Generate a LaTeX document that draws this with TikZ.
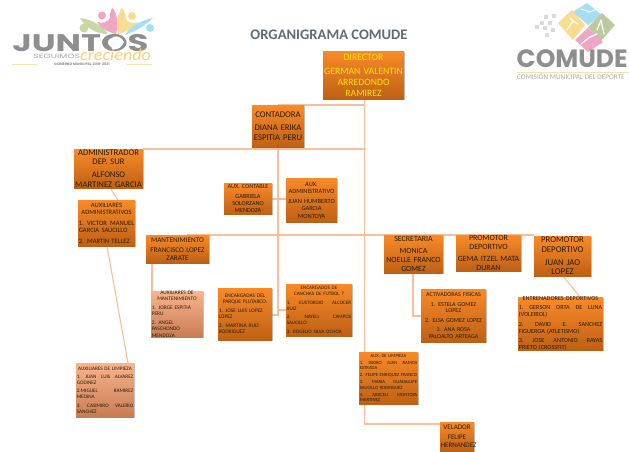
\documentclass[tikz,border=0pt]{standalone}
\usepackage{fontspec}
\setmainfont{Carlito}
\newfontfamily\logofont{Poppins}
\usetikzlibrary{shadows}
\definecolor{boxtop}{HTML}{F98A28}
\definecolor{boxbot}{HTML}{BE6014}
\definecolor{paletop}{HTML}{F9B48C}
\definecolor{palebot}{HTML}{C87C54}
\definecolor{linkc}{HTML}{F8C09A}
\definecolor{inkc}{HTML}{2A1C08}
\definecolor{titlec}{HTML}{5F6B78}
\definecolor{logogrey}{HTML}{8E8E8E}
\definecolor{lgreen}{HTML}{C6D8A4}
\definecolor{lpink}{HTML}{EFA6C6}
\definecolor{lyellow}{HTML}{F9DC92}
\definecolor{lblue}{HTML}{A6DEF2}
\definecolor{lcream}{HTML}{F7E3A8}
\tikzset{
  x=1pt,y=-1pt,
  orgbox/.style={rectangle,inner sep=0pt,outer sep=0pt,top color=boxtop,bottom color=boxbot,
    drop shadow={shadow xshift=0.6pt,shadow yshift=-0.8pt,fill=black!45,opacity=.5}},
  palebox/.style={orgbox,top color=paletop,bottom color=palebot},
  boxtext/.style={inner sep=0pt,outer sep=0pt,text=inkc,align=center},
  link/.style={draw=linkc,line width=1.1pt},
}
% box: name, x0, y0, x1, y1, style, font size, text  (text may overrun the box)
\newcommand{\obox}[8]{%
  \node[#6,anchor=north west,minimum width=#4pt-#2pt,minimum height=#5pt-#3pt] (#1) at (#2,#3) {};
  \node[boxtext,text width=#4pt-#2pt-1.6pt,font=\fontsize{#7}{\fpeval{#7*1.13}}\selectfont] (#1text) at (#1.center) {#8};}
\begin{document}
\begin{tikzpicture}
\useasboundingbox (0,0) rectangle (629,451);
\fill[white] (0,0) rectangle (629,451);

% anchors for the free bends
\coordinate (top) at (364.5,105);
\coordinate (contTop) at (278,105);
\coordinate (adminLine) at (364.5,149);
\coordinate (mantLine) at (187,235);
\coordinate (mainEnd) at (364.5,424);
\coordinate (contEnd) at (278,315);
\coordinate (contBranch) at (278,310);

% connectors first, boxes on top
\draw[link] (364.5,99) -- (mainEnd) -- (440,424);
\draw[link] (contTop) -- (top);
\draw[link] (278,147) -- (contEnd) -- (272,315);
\draw[link] (contBranch) -- (286,310);
\draw[link] (143,149) -- (adminLine);
\draw[link] (mantLine) -- (534,235);
\draw[link] (272,199) -- (286,199);
\draw[link] (110,188) -- (118,200);
\draw[link] (107,246) -- (128,363);
\draw[link] (152,263) -- (152,291);
\draw[link] (413,273) -- (413,316) -- (421,316);
\draw[link] (563,276) -- (580,297);

% boxes
\obox{dir}{323}{51}{404}{99}{orgbox}{9.7}{\color{yellow!90!orange}DIRECTOR\\[3pt]GERMAN VALENTIN\\ARREDONDO\\RAMIREZ}
\obox{cont}{252}{105}{304}{147}{orgbox}{8.7}{CONTADORA\\[3.5pt]DIANA ERIKA\\ESPITIA PERU}
\obox{admin}{74}{149}{143}{188}{orgbox}{8.6}{ADMINISTRADOR\\DEP. SUR\\[3pt]ALFONSO\\MARTINEZ GARCIA}
\obox{auxad}{78}{200}{135}{246}{orgbox}{6.6}{AUXILIARES\\ADMINISTRATIVOS\\[3pt]{\raggedright 1.\hfill VICTOR\hfill MANUEL\\GARCIA SAUCILLO\\[3pt]2. MARTIN TELLEZ\par}}
\obox{auxcon}{224}{183}{272}{214}{orgbox}{6.2}{AUX. CONTABLE\\[3pt]GABRIELA\\SOLORZANO\\MENDOZA}
\obox{auxadm}{286}{178}{337}{222}{orgbox}{6.4}{AUX.\\ADMINISTRATIVO\\[3pt]JUAN HUMBERTO\\GARCIA\\MONTOYA}
\obox{mant}{146}{235}{209}{263}{orgbox}{7.2}{MANTENIMIENTO\\[2pt]FRANCISCO LOPEZ\\ZARATE}
\obox{auxman}{151}{291}{203}{337}{palebox}{5.4}{AUXILIARES DE\\MANTENIMIENTO\\[3pt]{\raggedright 1. JORGE ESPITIA\\PERU\\[3pt]2. ANGEL\\PASCHONDO\\MENDOZA\par}}
\obox{parque}{218}{288}{272}{340}{orgbox}{5.4}{ENCARGADAS DEL\\PARQUE PLUTARCO.\\[3pt]{\raggedright 1. JOSE LUIS LOPEZ\\LOPEZ\\[3pt]2. MARTINA RUIZ\\RODRIGUEZ\par}}
\obox{canchas}{286}{284}{352}{336}{orgbox}{5.1}{ENCARGADOS DE\\CANCHAS DE FUTBOL 7\\[3pt]{\raggedright 1.\hfill EUSTORGIO\hfill ALCOCER\\RUIZ\\[3pt]2.\hfill NAYELI\hfill CAMPOS\\SAUCILLO\\[3pt]3. ROGELIO SILVA OCHOA\par}}
\obox{sec}{384}{235}{443}{273}{orgbox}{7.9}{SECRETARIA\\[2.5pt]MONICA\\NOELLE FRANCO\\GOMEZ}
\obox{prom}{456}{235}{521}{271}{orgbox}{8}{PROMOTOR\\DEPORTIVO\\[3pt]GEMA ITZEL MATA\\DURAN}
\obox{promb}{534}{236}{591}{276}{orgbox}{8.8}{PROMOTOR\\DEPORTIVO\\[2.5pt]JUAN JAO\\LOPEZ}
\obox{activ}{421}{289}{486}{342}{orgbox}{6}{ACTIVADORAS FISICAS\\[2.5pt]1. ESTELA GOMEZ\\LOPEZ\\[2.5pt]2. ELSA GOMEZ LOPEZ\\[2.5pt]3. ANA ROSA\\PALOALTO ARTEAGA}
\obox{entren}{518}{297}{603}{350}{orgbox}{6.2}{ENTRENADORES DEPORTIVOS\\[2.5pt]{\raggedright 1.\hfill GERSON\hfill ORTA\hfill DE\hfill LUNA\\(VOLEIBOL)\\[2.5pt]2.\hfill DAVID\hfill E.\hfill SANCHEZ\\FIGUEROA (ATLETISMO)\\[2.5pt]3.\hfill JOSE\hfill ANTONIO\hfill RAYAS\\PRIETO (CROSSFIT)\par}}
\obox{limpa}{76}{363}{134}{417}{palebox}{5.2}{AUXILIARES DE LIMPIEZA\\[2.5pt]{\raggedright 1.\hfill JUAN\hfill LUIS\hfill ALVAREZ\\GODINEZ\\[2.5pt]2.MIGUEL\hfill RAMIREZ\\MEDINA\\[2.5pt]3.\hfill CASIMIRO\hfill VALERIO\\SANCHEZ\par}}
\obox{limpb}{359}{352}{418}{404}{orgbox}{4.7}{AUX. DE LIMPIEZA\\[1.8pt]{\raggedright 1.\hfill ISIDRO\hfill JUAN\hfill RAMOS\\ESTRADA\\[1.8pt]\mbox{2. FELIPE ENRIQUEZ FRANCO}\\[1.8pt]3.\hfill MARIA\hfill GUADALUPE\\SAUCILLO RODRIGUEZ\\[1.8pt]4.\hfill ARACELI\hfill MONTOYA\\MARTINEZ\par}}
\obox{vel}{440}{422}{474}{451}{orgbox}{7}{VELADOR\\[2pt]FELIPE\\HERNANDEZ}

% title
\node[text=titlec,font=\fontsize{14.6}{16}\selectfont\bfseries] (title) at (329,35) {ORGANIGRAMA COMUDE};

% JUNTOS logo
\fill[lgreen] (80,18) .. controls (92,19) and (104,27) .. (108,34) .. controls (96,34) and (86,28) .. (80,18);
\fill[lgreen] (84,28) circle (4.5pt);
\fill[lpink] (97,22) .. controls (103,24) and (108,22) .. (110,18) .. controls (110,14) and (110,11) .. (112,8) .. controls (118,12) and (118,26) .. (116,34) .. controls (108,32) and (100,28) .. (97,22);
\fill[lpink] (102,15.5) circle (4pt);
\fill[lyellow] (122,8) .. controls (126,12) and (125,18) .. (127,21) .. controls (131,24) and (135,23) .. (138,22) .. controls (134,28) and (125,32) .. (118,34) .. controls (116,26) and (117,14) .. (122,8);
\fill[lyellow] (132,16) circle (4pt);
\fill[lblue] (153,18) .. controls (146,25) and (136,31) .. (125,35) .. controls (130,26) and (142,20) .. (153,18);
\fill[lblue] (150,28) circle (4pt);
\node[text=logogrey,font=\fontsize{24}{24}\logofont\bfseries,anchor=south west,inner sep=0pt,text depth=0pt,text height=17pt,xscale=1.41] (juntos) at (12,52) {JUNTOS};
\fill[white] (113,37) .. controls (118,35) and (122,38) .. (124,42) .. controls (122,47) and (117,51) .. (112,49) .. controls (110,45) and (110,40) .. (113,37);
\node[text=logogrey!75,font=\fontsize{6.2}{7}\logofont,anchor=west,inner sep=0pt,xscale=1.5] (seg) at (33,56.5) {SEGUIMOS};
\node[text=lyellow!85!orange,font=\fontsize{16.5}{17}\selectfont\itshape,anchor=west,inner sep=0pt,xscale=1.1] (crec) at (80,55) {creciendo};
\node[text=logogrey,font=\fontsize{3.4}{4}\logofont\bfseries,anchor=center,inner sep=0pt] (gob) at (82,64) {GOBIERNO MUNICIPAL 2018-2021};
\draw[lcream,line width=.7pt] (12,64) -- (37,64) (127,64) -- (152,64);

% COMUDE logo
\fill[lyellow] (558,23) -- (572,10) -- (585,25) -- (573,40) -- cycle;
\fill[lblue] (573,12) -- (587,3) -- (602,15) -- (588,25) -- cycle;
\fill[lgreen!85!gray] (588,27) -- (602,13) -- (615,25) -- (600,42) -- cycle;
\fill[lpink] (575,40) -- (588,28) -- (603,42) -- (588,52) -- cycle;
\draw[white,line width=1.2pt,line cap=round] (567,30) -- (573,21) -- (578,24) (573,21) -- (570,18);
\draw[white,line width=1pt,line cap=round] (581,9) -- (590,12) -- (596,9);
\draw[white,line width=1.2pt,line cap=round] (601,20) -- (604,34) (601,20) -- (597,30);
\draw[white,line width=1.2pt,line cap=round] (581,44) -- (590,37) -- (597,34);
\foreach \p in {(546,17),(554,16),(542,23),(550,23),(537,27),(545,28),(553,30),(547,35)}
  \fill[gray!30] \p ++(-2.2,-2.2) rectangle ++(4.4,4.4);
\node[text=logogrey,font=\fontsize{25}{26}\logofont\bfseries,anchor=west,inner sep=0pt] (comude) at (516.5,59) {COMUDE};
\draw[lcream,line width=.6pt] (517,72) -- (629,72);
\node[text=logogrey!75,font=\fontsize{7.2}{8}\selectfont,anchor=west,inner sep=0pt] (comis) at (517,76.5) {COMISIÓN MUNICIPAL DEL DEPORTE};
\end{tikzpicture}
\end{document}
